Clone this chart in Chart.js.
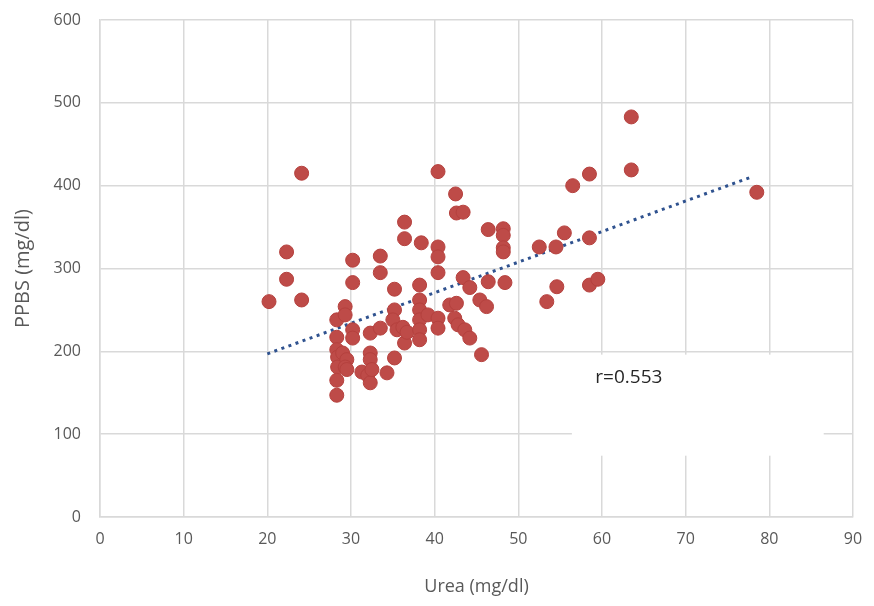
<!DOCTYPE html>
<html>
<head>
<meta charset="utf-8">
<script src="https://cdn.jsdelivr.net/npm/chart.js@4"></script>
<style>
  html, body { margin: 0; padding: 0; background: #fff; }
  #wrap { width: 874px; height: 606px; }
</style>
</head>
<body>
<div id="wrap"><canvas id="scatter-chart"></canvas></div>
<script>
// Urea vs PPBS
var ureaValues = [
  20.2, 22.3, 22.3, 24.1, 24.1,
  28.3, 28.3, 28.3, 28.4, 28.4, 28.3, 28.3,
  29.3, 29.3, 29.0, 29.5, 29.3, 29.5,
  30.2, 30.2, 30.2, 30.2, 31.3,
  32.3, 32.3, 32.3, 32.0, 32.3, 32.5,
  33.5, 33.5, 33.5, 34.3,
  35.2, 35.2, 35.0, 35.5, 35.2,
  36.4, 36.4, 36.2, 36.4, 36.7,
  38.4, 38.2, 38.2, 38.2, 38.2, 38.2, 38.2, 39.2,
  40.4, 40.4, 40.4, 40.4, 40.4, 40.4,
  42.5, 42.6, 43.4, 41.8, 42.6, 42.4, 42.8, 43.6, 44.2,
  43.4, 44.2, 45.4, 46.2, 45.6,
  46.4, 46.4, 48.2, 48.2, 48.2, 48.2, 48.4,
  52.5, 54.5, 55.5, 56.5, 58.5, 58.5, 58.5, 59.5,
  54.6, 53.4, 63.5, 63.5, 78.5
];
var ppbsValues = [
  260, 320, 287, 415, 262,
  238, 217, 202, 193, 181, 165, 147,
  254, 244, 198, 190, 181, 178,
  310, 283, 226, 216, 175,
  222, 198, 190, 171, 162, 178,
  315, 295, 228, 174,
  275, 250, 238, 226, 192,
  356, 336, 229, 210, 223,
  331, 280, 262, 250, 238, 226, 214, 244,
  417, 326, 314, 295, 240, 228,
  390, 367, 368, 256, 258, 240, 232, 226, 216,
  289, 277, 262, 254, 196,
  347, 284, 348, 340, 325, 320, 283,
  326, 326, 343, 400, 414, 337, 280, 287,
  278, 260, 483, 419, 392
];
// trendline end points as drawn
var trendX = [20, 78];
var trendY = [197, 411];
var xTicks = [0, 10, 20, 30, 40, 50, 60, 70, 80, 90];
var yTicks = [0, 100, 200, 300, 400, 500, 600];
var corrText = 'r=0.553';

var points = [];
for (var i = 0; i < ureaValues.length; i++) {
  points.push({ x: ureaValues[i], y: ppbsValues[i] });
}
var trendPoints = [];
for (var j = 0; j < trendX.length; j++) {
  trendPoints.push({ x: trendX[j], y: trendY[j] });
}

// white label box with the correlation value
var corrBox = {
  id: 'corrBox',
  beforeDatasetsDraw: function (chart) {
    var ctx = chart.ctx;
    var xs = chart.scales.x, ys = chart.scales.y;
    var left = xs.getPixelForValue(56.4);
    var right = xs.getPixelForValue(86.5);
    var top = ys.getPixelForValue(196);
    var bottom = ys.getPixelForValue(74);
    ctx.save();
    ctx.fillStyle = '#ffffff';
    ctx.fillRect(left, top, right - left, bottom - top);
    ctx.fillStyle = '#262626';
    ctx.font = '19px "Open Sans", sans-serif';
    ctx.textBaseline = 'middle';
    ctx.fillText(corrText, xs.getPixelForValue(59.2), ys.getPixelForValue(168));
    ctx.restore();
  }
};

var tickFont = { family: '"Open Sans", sans-serif', size: 16 };

new Chart(document.getElementById('scatter-chart'), {
  type: 'scatter',
  data: {
    datasets: [
      {
        label: 'PPBS',
        data: points,
        backgroundColor: '#be4b48',
        borderColor: '#b5413e',
        borderWidth: 1,
        pointRadius: 7,
        pointHoverRadius: 7
      },
      {
        type: 'line',
        label: 'Linear',
        data: trendPoints,
        borderColor: '#2f528f',
        borderWidth: 3,
        borderDash: [3, 4.5],
        pointRadius: 0,
        fill: false
      }
    ]
  },
  options: {
    responsive: true,
    maintainAspectRatio: false,
    animation: false,
    layout: { padding: { left: 0, right: 21, top: 20, bottom: 0 } },
    plugins: {
      legend: { display: false },
      tooltip: { enabled: false }
    },
    scales: {
      x: {
        type: 'linear',
        min: 0,
        max: 90,
        afterBuildTicks: function (axis) {
          axis.ticks = xTicks.map(function (v) { return { value: v }; });
        },
        afterFit: function (axis) { axis.height = 89; },
        grid: { color: '#d9d9d9', lineWidth: 1.5, tickLength: 13, tickColor: 'rgba(0,0,0,0)' },
        border: { color: '#d9d9d9', width: 1.5 },
        ticks: { color: '#595959', font: tickFont, padding: 0 },
        title: {
          display: true,
          text: 'Urea (mg/dl)',
          color: '#595959',
          font: { family: '"Open Sans", sans-serif', size: 18 },
          padding: { top: 4, bottom: 8 }
        }
      },
      y: {
        type: 'linear',
        min: 0,
        max: 600,
        afterBuildTicks: function (axis) {
          axis.ticks = yTicks.map(function (v) { return { value: v }; });
        },
        afterFit: function (axis) { axis.width = 100; },
        grid: { color: '#d9d9d9', lineWidth: 1.5, tickLength: 19, tickColor: 'rgba(0,0,0,0)' },
        border: { color: '#d9d9d9', width: 1.5 },
        ticks: { color: '#595959', font: tickFont, padding: 0 },
        title: {
          display: true,
          text: 'PPBS (mg/dl)',
          color: '#595959',
          font: { family: '"Open Sans", sans-serif', size: 20 },
          padding: { top: 11, bottom: 4 }
        }
      }
    }
  },
  plugins: [corrBox]
});
</script>
</body>
</html>
